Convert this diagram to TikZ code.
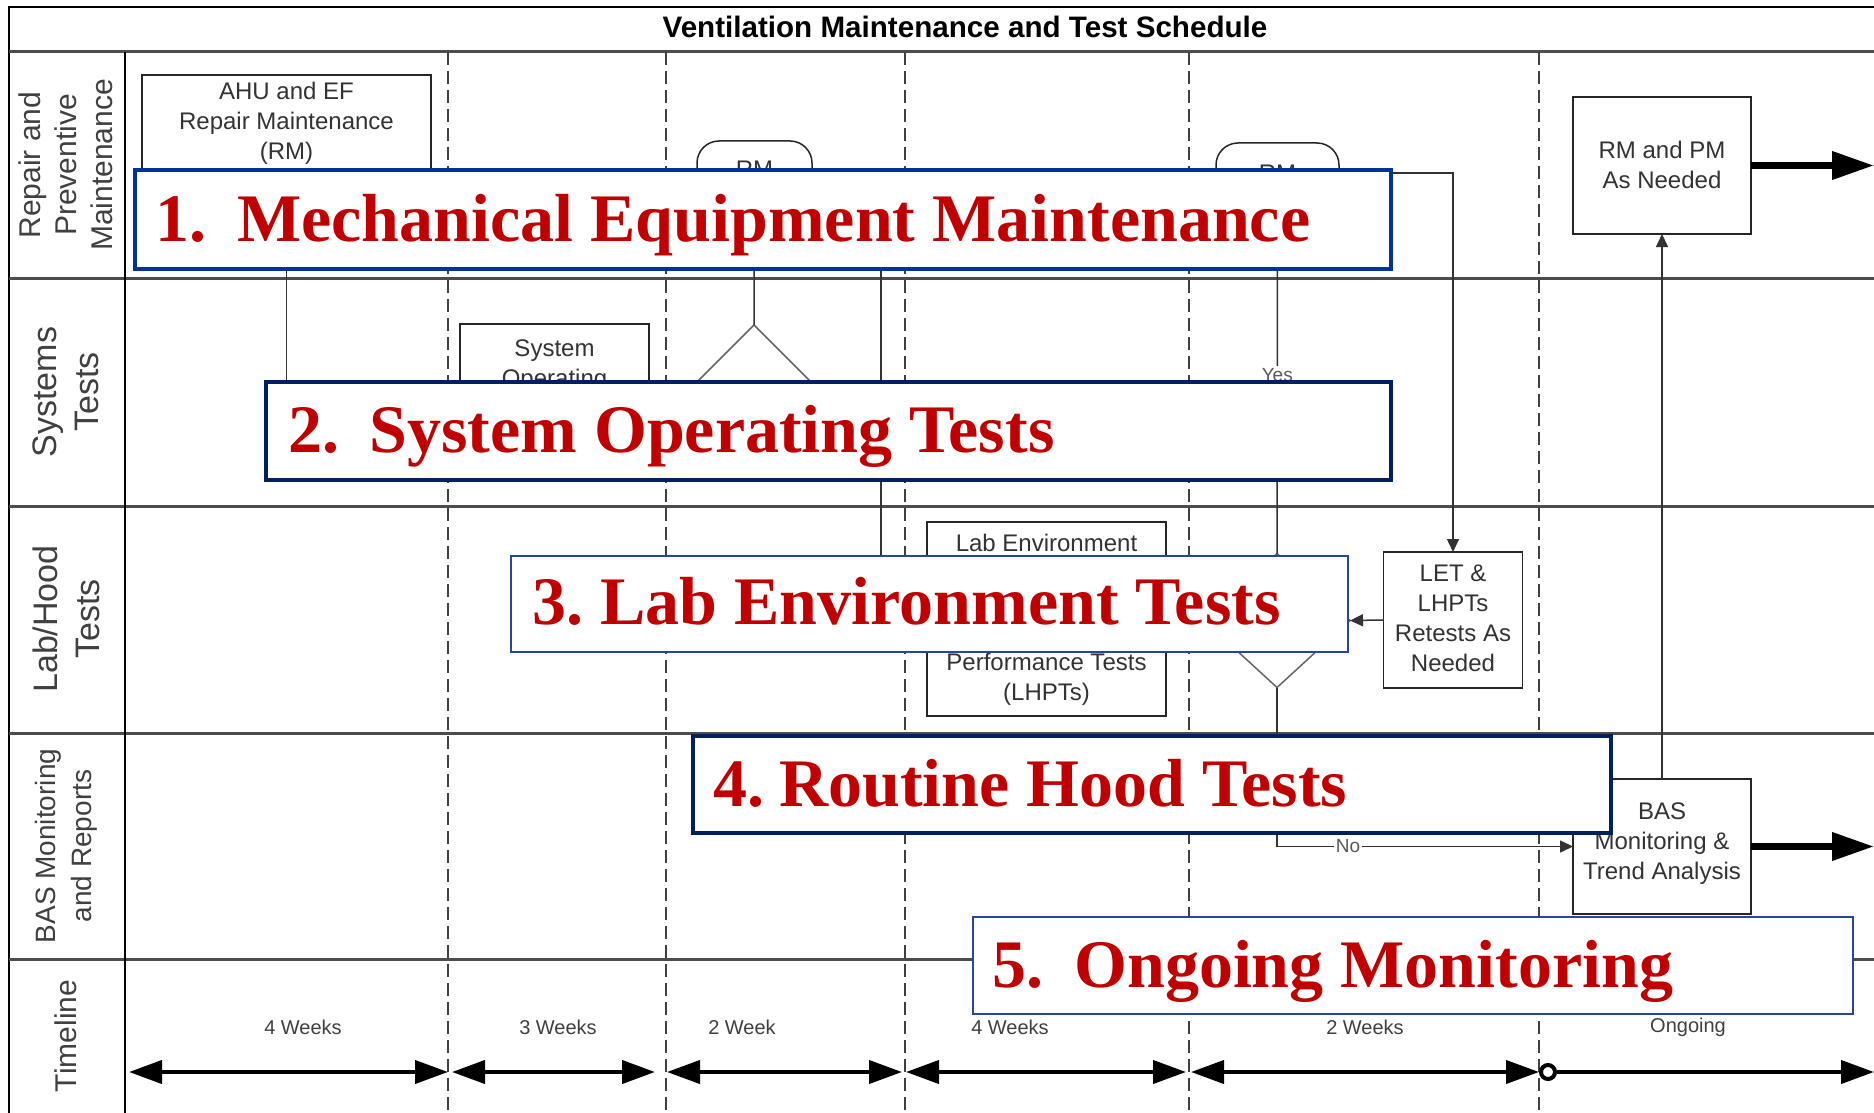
\documentclass[tikz,border=0pt]{standalone}
\usepackage{fontspec}
\setmainfont{Liberation Serif}
\newfontfamily\sansf{Liberation Sans}
\usetikzlibrary{arrows.meta,shapes.geometric}
\definecolor{banblue}{RGB}{0,51,153}
\definecolor{bannavy}{RGB}{0,32,96}
\definecolor{banmid}{RGB}{40,70,160}
\definecolor{banred}{RGB}{192,0,0}

\begin{document}
\begin{tikzpicture}[x=0.5pt,y=-0.5pt,
  lanerule/.style={draw=black!70, line width=1.5pt},
  colrule/.style={draw=black!75, line width=0.75pt, dash pattern=on 6.5pt off 3pt},
  lanelbl/.style={rotate=90, align=center, text=black!75, inner sep=0pt},
  box/.style={draw=black!85, line width=0.75pt, fill=white, inner sep=0pt, outer sep=0pt},
  boxtxt/.style={align=center, text=black!80, inner sep=0pt, font=\sansf\fontsize{12}{15}\selectfont},
  term/.style={box, rounded corners=11pt},
  decision/.style={diamond, draw=black!60, line width=0.75pt, fill=white, inner sep=0pt, outer sep=0pt},
  conn/.style={draw=black!80, line width=0.75pt},
  arrowed/.style={-{Triangle[length=6.5pt,width=6pt]}},
  yesno/.style={fill=white, inner sep=1pt, text=black!65, font=\sansf\fontsize{9.5}{11}\selectfont},
  tlspan/.style={line width=2pt, {Triangle[length=16.5pt,width=11.5pt]}-{Triangle[length=16.5pt,width=11.5pt]}},
  fat/.style={line width=3.5pt, -{Triangle[length=21pt,width=13.5pt]}},
  tlbl/.style={text=black!75, font=\sansf\fontsize{10}{12}\selectfont, inner sep=0pt},
  banner/.style={fill=white, inner sep=0pt, outer sep=0pt},
  bantxt/.style={text=banred, font=\bfseries\fontsize{34}{40}\selectfont, inner sep=0pt, anchor=base west}
]
\useasboundingbox[fill=white] (0,0) rectangle (1874,1113);

% frame, lanes and phase columns
\draw[line width=1pt] (8.5,1113) -- (8.5,7) -- (1874,7);
\foreach \yy in {52,278,506,733,959}
  \draw[lanerule] (8.5,\yy) -- (1874,\yy);
\draw[line width=0.75pt] (125,52) -- (125,1113);
\foreach \xx in {448,666,905,1189,1539}
  \draw[colrule] (\xx,52) -- (\xx,1113);

\node[font=\sansf\bfseries\fontsize{14.8}{17}\selectfont, anchor=base, inner sep=0pt] (title) at (965,38)
  {Ventilation Maintenance and Test Schedule};

% lane headings
\node[lanelbl, font=\sansf\fontsize{15}{18}\selectfont] (l1) at (66,165) {Repair and\\Preventive\\Maintenance};
\node[lanelbl, font=\sansf\fontsize{17}{21}\selectfont] (l2) at (66,392) {Systems\\Tests};
\node[lanelbl, font=\sansf\fontsize{17}{21}\selectfont] (l3) at (66,619) {Lab/Hood\\Tests};
\node[lanelbl, font=\sansf\fontsize{14}{18}\selectfont] (l4) at (66,846) {BAS Monitoring\\and Reports};
\node[lanelbl, font=\sansf\fontsize{15}{18}\selectfont] (l5) at (66,1036) {Timeline};

% process shapes
\node[box, minimum width=144.5pt, minimum height=48.5pt] (ahu) at (286.5,123.5) {};
\node[boxtxt] (ahutxt) at (286.5,123) {AHU and EF\\Repair Maintenance\\(RM)};
\node[term, minimum width=57.5pt, minimum height=28pt] (rm1) at (754.5,169) {};
\node[boxtxt] (rm1txt) at (754.5,169) {RM};
\node[term, minimum width=61.5pt, minimum height=30pt] (rm2) at (1277.5,173) {};
\node[boxtxt] (rm2txt) at (1277.5,173) {RM};
\node[box, minimum width=89pt, minimum height=68.5pt] (rmpm) at (1662,165.5) {};
\node[boxtxt] (rmpmtxt) at (1662,165) {RM and PM\\As Needed};

\node[box, minimum width=94.5pt, minimum height=57pt] (sys) at (554.5,381) {};
\node[boxtxt] (systxt) at (554.5,366) {System\\Operating};
\node[decision, minimum width=70pt, minimum height=70pt] (d1) at (754,395) {};

\node[box, minimum width=119.5pt, minimum height=97pt] (le) at (1046.5,619) {};
\node[boxtxt] (letxt1) at (1046.5,543) {Lab Environment};
\node[boxtxt] (letxt2) at (1046.5,679) {Performance Tests\\(LHPTs)};
\node[decision, minimum width=73pt, minimum height=67pt] (d2) at (1277,620.5) {};
\node[box, minimum width=69.5pt, minimum height=68pt] (let) at (1453,620) {};
\node[boxtxt] (lettxt) at (1453,618.5) {LET \&\\LHPTs\\Retests As\\Needed};

\node[box, minimum width=89pt, minimum height=67.5pt] (bas) at (1662,846.5) {};
\node[boxtxt] (bastxt) at (1662,843.5) {BAS\\Monitoring \&\\Trend Analysis};

% connectors
\coordinate (j0) at (286.5,420);
\coordinate (j1) at (881,600);
\draw[conn, arrowed] (ahu.south) -- (j0) -- (sys.west |- j0);
\draw[conn] (rm1.south) -- (d1.north);
\draw[conn, arrowed] (rm1.east) -| (j1) -- (le.west |- j1);
\draw[conn] (rm2.south) -- node[yesno, pos=0.49] (yes) {Yes} (d2.north);
\draw[conn, arrowed] (rm2.east) -| (let.north);
\draw[conn, arrowed] (let.west) -- (d2.east);
\draw[conn, arrowed] (d2.south) |- node[yesno, pos=0.62] (no) {No} (bas.west);
\draw[conn, arrowed] (bas.north) -- (rmpm.south);
\coordinate (out1) at (1874,165.5);
\coordinate (out2) at (1874,846.5);
\draw[fat] (rmpm.east) -- (out1);
\draw[fat] (bas.east) -- (out2);

% timeline
\coordinate (a0) at (129,1072);  \coordinate (a1) at (448,1072);
\coordinate (b0) at (452,1072);  \coordinate (b1) at (655,1072);
\coordinate (c0) at (667,1072);  \coordinate (c1) at (902,1072);
\coordinate (e0) at (906,1072);  \coordinate (e1) at (1186,1072);
\coordinate (f0) at (1191,1072); \coordinate (g1) at (1874,1072);
\node[circle, draw, line width=2pt, fill=white, minimum size=7pt, inner sep=0pt] (tc) at (1548,1072) {};
\draw[tlspan] (a0) -- (a1);
\draw[tlspan] (b0) -- (b1);
\draw[tlspan] (c0) -- (c1);
\draw[tlspan] (e0) -- (e1);
\draw[tlspan] (f0) -- (tc.west);
\draw[line width=2pt, -{Triangle[length=16.5pt,width=11.5pt]}] (tc.east) -- (g1);
\node[tlbl] (w1) at (303,1027) {4 Weeks};
\node[tlbl] (w2) at (558,1027) {3 Weeks};
\node[tlbl] (w3) at (742,1027) {2 Week};
\node[tlbl] (w4) at (1010,1027) {4 Weeks};
\node[tlbl] (w5) at (1365,1027) {2 Weeks};
\node[tlbl] (w6) at (1688,1027) {Ongoing};

% numbered call-out banners
\node[banner, draw=banblue, line width=2.25pt, minimum width=628pt, minimum height=49.5pt] (b1) at (763,219.5) {};
\node[bantxt] (b1t) at (155,241) {\makebox[41pt][l]{1.}Mechanical Equipment Maintenance};
\node[banner, draw=bannavy, line width=2pt, minimum width=562.5pt, minimum height=49pt] (b2) at (828.5,431) {};
\node[bantxt] (b2t) at (288,452) {\makebox[40.5pt][l]{2.}System Operating Tests};
\node[banner, draw=banmid, line width=1pt, minimum width=418.5pt, minimum height=48pt] (b3) at (929.5,604) {};
\node[bantxt] (b3t) at (532,624) {\makebox[34pt][l]{3.}Lab Environment Tests};
\node[banner, draw=bannavy, line width=2pt, minimum width=459pt, minimum height=48.5pt] (b4) at (1152,784.5) {};
\node[bantxt] (b4t) at (713,806) {\makebox[33pt][l]{4.}Routine Hood Tests};
\node[banner, draw=banmid, line width=1pt, minimum width=440pt, minimum height=48.5pt] (b5) at (1413,965.5) {};
\node[bantxt] (b5t) at (992,987) {\makebox[41pt][l]{5.}Ongoing Monitoring};
\end{tikzpicture}
\end{document}
